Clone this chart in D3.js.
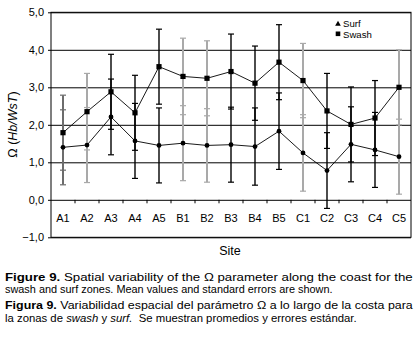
<!DOCTYPE html>
<html>
<head>
<meta charset="utf-8">
<script src="https://cdn.jsdelivr.net/npm/d3@7"></script>
<style>
  body { margin: 0; background: #fff; }
  svg { display: block; font-family: "Liberation Sans Narrow", "Arial Narrow", "Liberation Sans", Arial, sans-serif; }
</style>
</head>
<body>
<div id="chart"></div>
<script>
// data
var sites = ["A1","A2","A3","A4","A5","B1","B2","B3","B4","B5","C1","C2","C3","C4","C5"];
var swash = [1.79, 2.35, 2.88, 2.32, 3.55, 3.29, 3.24, 3.42, 3.11, 3.67, 3.18, 2.37, 2.01, 2.18, 3.00];
var swashErr = [1.0, 1.02, 1.0, 1.0, 1.0, 1.02, 1.0, 1.0, 0.99, 1.0, 0.99, 1.0, 1.0, 1.0, 1.0];
var surf = [1.40, 1.46, 2.21, 1.57, 1.45, 1.51, 1.45, 1.47, 1.42, 1.83, 1.25, 0.78, 1.48, 1.33, 1.15];
var surfErr = [1.0, 1.0, 1.01, 1.0, 1.0, 1.0, 0.98, 1.0, 1.03, 1.02, 1.02, 1.01, 1.0, 1.0, 1.0];
// shade of the error bars at each site: 0 black, 1 gray, 2 dark gray
var barShade = [2, 1, 0, 0, 0, 1, 1, 0, 0, 0, 1, 0, 0, 0, 1];
var yTicks = [-1, 0, 1, 2, 3, 4, 5];

var W = 418, H = 342;
var pLeft = 51, pRight = 411, pTop = 12.3, pBottom = 237.3;

var svg = d3.select("#chart").append("svg")
    .attr("width", W)
    .attr("height", H);

var x = d3.scaleBand().domain(sites).range([pLeft, pRight]).padding(0);
var y = d3.scaleLinear().domain([-1, 5]).range([pBottom, pTop]);
var fmt = function(d) { return d3.format(".1f")(d).replace(".", ","); };

// y axis with full width grid lines
var yAxis = svg.append("g")
    .attr("transform", "translate(" + (pLeft - 3) + ",0)")
    .call(d3.axisLeft(y).tickValues(yTicks).tickSize(-(pRight - pLeft + 3)).tickPadding(4).tickFormat(fmt));
yAxis.select(".domain").remove();
yAxis.selectAll(".tick line").attr("stroke", "#000").attr("stroke-width", 1);
yAxis.selectAll(".tick text").attr("font-size", 11).attr("fill", "#000")
    .attr("font-family", "inherit");

// frame
svg.append("rect")
    .attr("x", pLeft).attr("y", pTop)
    .attr("width", pRight - pLeft).attr("height", pBottom - pTop)
    .attr("fill", "none").attr("stroke", "#000").attr("stroke-width", 1);

// x axis along zero
var xAxis = svg.append("g")
    .attr("transform", "translate(0," + y(0) + ")")
    .call(d3.axisBottom(x).tickSize(0).tickPadding(14));
xAxis.select(".domain").remove();
xAxis.selectAll(".tick text").attr("font-size", 11).attr("fill", "#000")
    .attr("font-family", "inherit");

// boundary ticks between sites
svg.append("g").selectAll("line")
    .data(sites.slice(1))
  .enter().append("line")
    .attr("x1", function(d) { return x(d); })
    .attr("x2", function(d) { return x(d); })
    .attr("y1", y(0))
    .attr("y2", y(0) + 3.5)
    .attr("stroke", "#000");

// error bars
var shadeColor = ["#000", "#a9a9a9", "#6c6c6c"];
var shadeWidth = [1.4, 2, 2];
var bars = [];
sites.forEach(function(s, i) {
  bars.push({site: s, v: surf[i], e: surfErr[i], shade: barShade[i]});
  bars.push({site: s, v: swash[i], e: swashErr[i], shade: barShade[i]});
});
var cx = function(s) { return x(s) + x.bandwidth() / 2; };
var eb = svg.append("g").selectAll("g")
    .data(bars)
  .enter().append("g")
    .attr("stroke", function(d) { return shadeColor[d.shade]; })
    .attr("stroke-width", function(d) { return shadeWidth[d.shade]; });
eb.append("line")
    .attr("x1", function(d) { return cx(d.site); })
    .attr("x2", function(d) { return cx(d.site); })
    .attr("y1", function(d) { return y(d.v - d.e); })
    .attr("y2", function(d) { return y(d.v + d.e); });
[-1, 1].forEach(function(sgn) {
  eb.append("line")
      .attr("x1", function(d) { return cx(d.site) - 3; })
      .attr("x2", function(d) { return cx(d.site) + 3; })
      .attr("y1", function(d) { return y(d.v + sgn * d.e); })
      .attr("y2", function(d) { return y(d.v + sgn * d.e); })
      .attr("stroke-width", 1.2);
});

// lines
var line = d3.line()
    .x(function(d, i) { return cx(sites[i]); })
    .y(function(d) { return y(d); });
[surf, swash].forEach(function(ser) {
  svg.append("path")
      .datum(ser)
      .attr("d", line)
      .attr("fill", "none")
      .attr("stroke", "#000")
      .attr("stroke-width", 0.9);
});

// markers
svg.append("g").selectAll("rect")
    .data(swash)
  .enter().append("rect")
    .attr("x", function(d, i) { return cx(sites[i]) - 2.6; })
    .attr("y", function(d) { return y(d) - 2.6; })
    .attr("width", 5.2).attr("height", 5.2)
    .attr("fill", "#000");
svg.append("g").selectAll("circle")
    .data(surf)
  .enter().append("circle")
    .attr("cx", function(d, i) { return cx(sites[i]); })
    .attr("cy", function(d) { return y(d); })
    .attr("r", 2.4)
    .attr("fill", "#000");

// legend
var lg = svg.append("g").attr("transform", "translate(338,0)");
lg.append("path")
    .attr("d", d3.symbol().type(d3.symbolTriangle).size(14)())
    .attr("transform", "translate(0,24)");
lg.append("rect").attr("x", -2.3).attr("y", 31.5).attr("width", 4.6).attr("height", 4.6);
lg.append("text").attr("x", 5).attr("y", 27.3).attr("font-size", 9.6).text("Surf");
lg.append("text").attr("x", 5).attr("y", 38).attr("font-size", 9.6).text("Swash");

// axis titles
svg.append("text")
    .attr("x", 230).attr("y", 254.5)
    .attr("text-anchor", "middle")
    .attr("font-size", 12.5)
    .text("Site");
var yt = svg.append("text")
    .attr("transform", "translate(17,124.5) rotate(-90)")
    .attr("text-anchor", "middle")
    .attr("font-size", 12.5);
yt.append("tspan").text("\u03A9 (");
yt.append("tspan").attr("font-style", "italic").text("Hb/WsT");
yt.append("tspan").text(")");

// caption: [text, style, spaces after]; each line squeezed to the width it has in the figure
var caption = [
  {y: 280.5, len: 408, parts: [["Figure 9.", "b", 1], ["Spatial variability of the \u03A9 parameter along the coast for the", "", 0]]},
  {y: 292.5, len: 328, parts: [["swash and surf zones. Mean values and standard errors are shown.", "", 0]]},
  {y: 309, len: 408, parts: [["Figura 9.", "b", 1], ["Variabilidad espacial del par\u00e1metro \u03A9 a lo largo de la costa para", "", 0]]},
  {y: 321.5, len: 352, parts: [["la zonas de", "", 1], ["swash", "i", 1], ["y", "", 1], ["surf.", "i", 2], ["Se muestran promedios y errores est\u00e1ndar.", "", 0]]}
];
var capSize = 11;
var spaceW = capSize * 0.278;
caption.forEach(function(c) {
  var g = svg.append("g");
  var cursor = 0;
  c.parts.forEach(function(p) {
    var t = g.append("text")
        .attr("x", cursor)
        .attr("font-size", capSize)
        .attr("font-weight", p[1] === "b" ? "bold" : null)
        .attr("font-style", p[1] === "i" ? "italic" : null)
        .text(p[0]);
    cursor += t.node().getComputedTextLength() + p[2] * spaceW;
  });
  g.attr("transform", "translate(5," + c.y + ") scale(" + (c.len / cursor) + ",1)");
});
</script>
</body>
</html>
